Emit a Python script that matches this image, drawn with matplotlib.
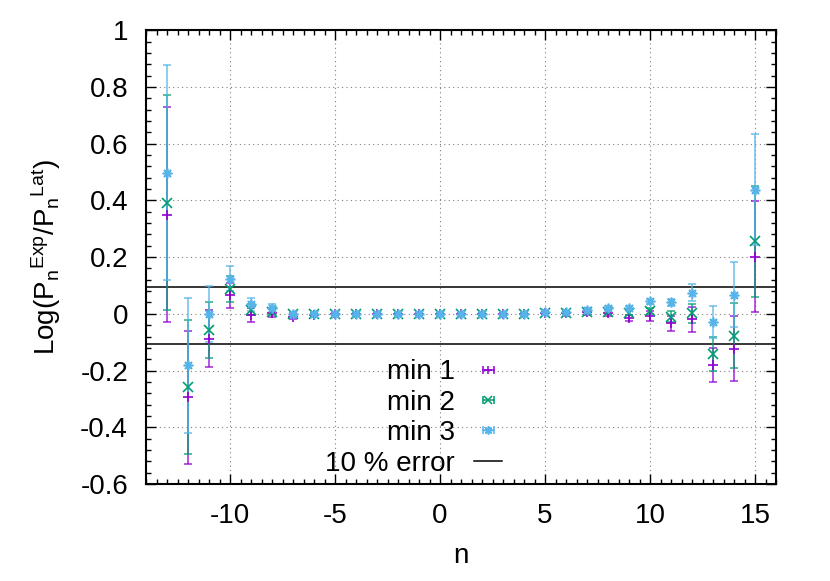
import matplotlib
matplotlib.use('Agg')
import matplotlib.pyplot as plt
import numpy as np
from matplotlib.lines import Line2D
from matplotlib.legend_handler import HandlerLine2D, HandlerTuple
from matplotlib.ticker import MultipleLocator, FormatStrFormatter

plt.rcParams['font.family'] = ['Liberation Sans', 'DejaVu Sans']
plt.rcParams['mathtext.fontset'] = 'custom'
plt.rcParams['mathtext.rm'] = 'Liberation Sans'
plt.rcParams['mathtext.it'] = 'Liberation Sans'
plt.rcParams['axes.unicode_minus'] = False

n = np.arange(-13, 16)

min1 = [0.35, -0.295, -0.088, 0.065, -0.005, 0.003, -0.01, -0.004, 0.0, 0.0,
        0.0, 0.0, 0.0, 0.0, 0.0, 0.0, 0.0, 0.0, 0.003, 0.002,
        0.005, 0.003, -0.015, -0.008, -0.033, -0.02, -0.18, -0.123, 0.202]
err1 = [0.378, 0.236, 0.1, 0.045, 0.025, 0.015, 0.01, 0.006, 0.004, 0.004,
        0.004, 0.004, 0.004, 0.004, 0.004, 0.004, 0.004, 0.004, 0.004, 0.008,
        0.01, 0.01, 0.012, 0.018, 0.027, 0.045, 0.06, 0.115, 0.197]

min2 = [0.392, -0.258, -0.056, 0.087, 0.015, 0.007, 0.0, 0.0, 0.0, 0.0,
        0.0, 0.0, 0.0, 0.0, 0.0, 0.0, 0.0, 0.0, 0.003, 0.004,
        0.008, 0.008, 0.004, 0.011, -0.01, 0.002, -0.14, -0.077, 0.255]
err2 = [0.379, 0.236, 0.099, 0.045, 0.02, 0.012, 0.006, 0.004, 0.003, 0.003,
        0.003, 0.003, 0.003, 0.003, 0.003, 0.003, 0.003, 0.003, 0.003, 0.004,
        0.006, 0.008, 0.008, 0.01, 0.02, 0.033, 0.06, 0.115, 0.197]

min3 = [0.498, -0.182, -0.001, 0.124, 0.033, 0.02, 0.0, 0.0, 0.0, 0.0,
        0.0, 0.0, 0.0, 0.0, 0.0, 0.0, 0.0, 0.0, 0.005, 0.006,
        0.013, 0.02, 0.021, 0.044, 0.041, 0.075, -0.03, 0.068, 0.438]
err3 = [0.379, 0.237, 0.098, 0.043, 0.024, 0.015, 0.005, 0.003, 0.003, 0.003,
        0.003, 0.003, 0.003, 0.003, 0.003, 0.003, 0.003, 0.003, 0.003, 0.004,
        0.005, 0.006, 0.007, 0.008, 0.012, 0.03, 0.056, 0.114, 0.196]

labels = ['min 1', 'min 2', 'min 3']
colors = ['#9400d3', '#009e73', '#56b4e9']
markers = ['+', 'x', (8, 2, 0)]

fig = plt.figure(figsize=(8.3, 5.81), dpi=100)
ax = fig.add_axes([0.176, 0.167, 0.759, 0.781])

handles = []
hmap = {}
for y, e, c, m in zip([min1, min2, min3], [err1, err2, err3], colors, markers):
    ax.errorbar(n, y, yerr=e, fmt='none', ecolor=c, elinewidth=1.1,
                capsize=3, capthick=1.1, alpha=0.85, zorder=3)
    ax.plot(n, y, linestyle='none', marker=m, color=c, ms=7, mew=1.2, zorder=4)
    bar = Line2D([], [], color=c, lw=1.1, marker='|', ms=6, mew=1.1)
    pt = Line2D([], [], color=c, lw=0, marker=m, ms=6, mew=1.1)
    hmap[bar] = HandlerLine2D(numpoints=2)
    hmap[pt] = HandlerLine2D(numpoints=1)
    handles.append((bar, pt))

ax.axhline(np.log(1.1), color='black', lw=1.1, zorder=2)
ax.axhline(np.log(0.9), color='black', lw=1.1, zorder=2)
handles.append(Line2D([], [], color='black', lw=1.1))
hmap[tuple] = HandlerTuple(ndivide=1, pad=0)

ax.set_xlim(-14, 16)
ax.set_ylim(-0.6, 1.0)
ax.xaxis.set_major_locator(MultipleLocator(5))
ax.xaxis.set_minor_locator(MultipleLocator(0.5))
ax.yaxis.set_major_locator(MultipleLocator(0.2))
ax.yaxis.set_minor_locator(MultipleLocator(0.04))
ax.yaxis.set_major_formatter(FormatStrFormatter('%g'))
ax.xaxis.set_major_formatter(FormatStrFormatter('%g'))

ax.grid(True, which='major', linestyle=(0, (1, 3)), color='gray', lw=0.8)
ax.tick_params(which='both', direction='in', top=True, right=True, labelsize=20)
ax.tick_params(which='major', length=7, width=1)
ax.tick_params(which='minor', length=3.5, width=1)
ax.tick_params(axis='x', pad=14)
ax.tick_params(axis='y', pad=13)
for s in ax.spines.values():
    s.set_linewidth(1.5)

ax.set_xlabel('n', fontsize=20, labelpad=10)
ax.set_ylabel(r'Log(P$_n{}^{Exp}$/P$_n{}^{Lat}$)', fontsize=20, labelpad=12)

ax.legend(handles, labels + ['10 % error'], handler_map=hmap,
          loc='center right', bbox_to_anchor=(0.605, 0.2806),
          bbox_transform=fig.transFigure, frameon=False, markerfirst=False,
          fontsize=20, handlelength=1.0, labelspacing=0.16, handletextpad=0.7,
          borderpad=0, borderaxespad=0)

fig.savefig('out.png', dpi=100)
